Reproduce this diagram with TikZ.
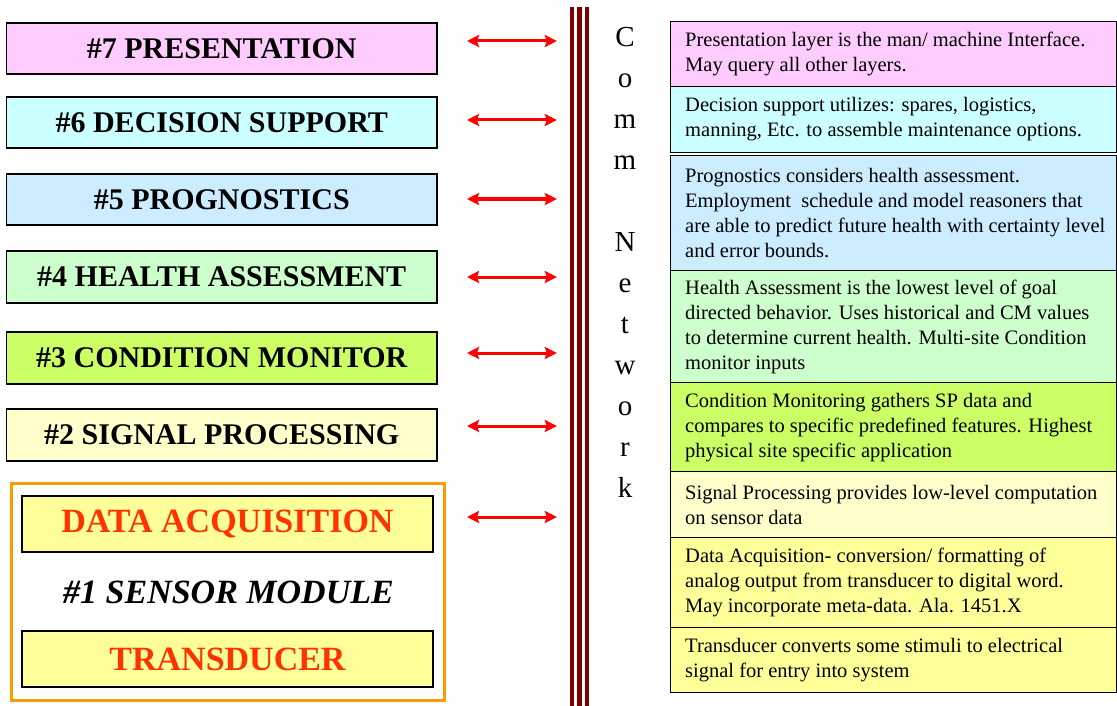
\documentclass[tikz,border=0pt]{standalone}
\usepackage{fontspec}
\setmainfont{Liberation Serif}
\usetikzlibrary{arrows.meta,calc}
\definecolor{cpink}{HTML}{FFCCFF}
\definecolor{ccyan}{HTML}{CCFFFF}
\definecolor{cblue}{HTML}{CCECFF}
\definecolor{cgreen}{HTML}{CCFFCC}
\definecolor{clime}{HTML}{CCFF66}
\definecolor{cpale}{HTML}{FFFFCC}
\definecolor{cyell}{HTML}{FFFF99}
\definecolor{corange}{HTML}{FF9900}
\definecolor{cred}{HTML}{FF3300}
\definecolor{cbar}{HTML}{800000}
\begin{document}
\begin{tikzpicture}[x=1pt,y=-1pt,
  lbox/.style={draw=black, line width=1.2pt, minimum width=430.5pt, minimum height=51pt, inner sep=0pt, font=\fontsize{30}{36}\selectfont\bfseries},
  sbox/.style={draw=black, line width=1.2pt, fill=cyell, minimum width=411pt, minimum height=56pt, inner sep=0pt, font=\fontsize{34}{40}\selectfont\bfseries, text=cred},
  rbox/.style={draw=black, line width=1.2pt, minimum width=446pt, anchor=north west, inner sep=0pt},
  rtext/.style={anchor=west, align=left, inner sep=0pt, font=\fontsize{20.5}{25}\selectfont},
  arr/.style={{Stealth[length=12pt,width=12pt,inset=2pt]}-{Stealth[length=12pt,width=12pt,inset=2pt]}, draw=red, line width=3pt},
  stripe/.style={fill=cbar}
]
\useasboundingbox (0,0) rectangle (1117,706);

% left layer boxes
\node[lbox, fill=cpink] (l7) at (221.75,48.5) {\#7 PRESENTATION};
\node[lbox, fill=ccyan] (l6) at (221.75,122.5) {\#6 DECISION SUPPORT};
\node[lbox, fill=cblue] (l5) at (221.75,199.5) {\#5 PROGNOSTICS};
\node[lbox, fill=cgreen, minimum height=52pt] (l4) at (221.75,277) {\#4 HEALTH ASSESSMENT};
\node[lbox, fill=clime, minimum height=52pt] (l3) at (221.75,358) {\#3 CONDITION MONITOR};
\node[lbox, fill=cpale, minimum height=52pt] (l2) at (221.75,435) {\#2 SIGNAL PROCESSING};

% sensor module
\node[draw=corange, line width=3pt, minimum width=433pt, minimum height=217pt, inner sep=0pt] (s1) at (227.5,591.5) {};
\node[sbox] (da) at (227.5,524) {DATA ACQUISITION};
\node[font=\fontsize{34}{40}\selectfont\bfseries\itshape, inner sep=0pt] (sm) at (228.5,592) {\#1 SENSOR MODULE};
\node[sbox] (td) at (227.5,659) {TRANSDUCER};

% comm bar
\node[minimum width=19pt, minimum height=699pt, inner sep=0pt] (bar) at (579.5,356.5) {};
\fill[stripe] (570.3,7) rectangle (573.5,706);
\fill[stripe] (576.7,7) rectangle (582.3,706);
\fill[stripe] (585.3,7) rectangle (588.5,706);

\node[font=\fontsize{29}{41}\selectfont, align=center, inner sep=0pt] (comm) at (625,262)
  {C\\o\\m\\m\\[41pt]N\\e\\t\\w\\o\\r\\k};

% arrows
\coordinate (a7) at (467,41);
\coordinate (a6) at (467,120);
\coordinate (a5) at (467,199);
\coordinate (a4) at (467,277);
\coordinate (a3) at (467,353);
\coordinate (a2) at (467,426);
\coordinate (a1) at (467,517);
\foreach \a in {a7,a6,a5,a4,a3,a2,a1}
  \draw[arr] (\a) -- (\a -| bar.west) [shorten >=13pt];

% right description boxes
\node[rbox, fill=cpink, minimum height=65pt] (r7) at (670,21) {};
\node[rbox, fill=ccyan, minimum height=66pt] (r6) at (670,86) {};
\node[rbox, fill=cblue, minimum height=115pt] (r5) at (670,155) {};
\node[rbox, fill=cgreen, minimum height=112pt] (r4) at (670,270) {};
\node[rbox, fill=clime, minimum height=89pt] (r3) at (670,382) {};
\node[rbox, fill=cpale, minimum height=66pt] (r2) at (670,471) {};
\node[rbox, fill=cyell, minimum height=90pt] (r1a) at (670,537) {};
\node[rbox, fill=cyell, minimum height=65pt] (r1b) at (670,627) {};

\node[rtext] (t7) at ([xshift=15pt]r7.west) {Presentation layer is the man/ machine Interface.\\May query all other layers.};
\node[rtext] (t6) at ([xshift=15pt]r6.west) {Decision support utilizes: spares, logistics,\\manning, Etc. to assemble maintenance options.};
\node[rtext] (t5) at ([xshift=15pt]r5.west) {Prognostics considers health assessment.\\Employment\ \ schedule and model reasoners that\\are able to predict future health with certainty level\\and error bounds.};
\node[rtext] (t4) at ([xshift=15pt]r4.west) {Health Assessment is the lowest level of goal\\directed behavior. Uses historical and CM values\\to determine current health. Multi-site Condition\\monitor inputs};
\node[rtext] (t3) at ([xshift=15pt]r3.west) {Condition Monitoring gathers SP data and\\compares to specific predefined features. Highest\\physical site specific application};
\node[rtext] (t2) at ([xshift=15pt]r2.west) {Signal Processing provides low-level computation\\on sensor data};
\node[rtext] (t1a) at ([xshift=15pt]r1a.west) {Data Acquisition- conversion/ formatting of\\analog output from transducer to digital word.\\May incorporate meta-data. Ala. 1451.X};
\node[rtext] (t1b) at ([xshift=15pt]r1b.west) {Transducer converts some stimuli to electrical\\signal for entry into system};
\end{tikzpicture}
\end{document}
